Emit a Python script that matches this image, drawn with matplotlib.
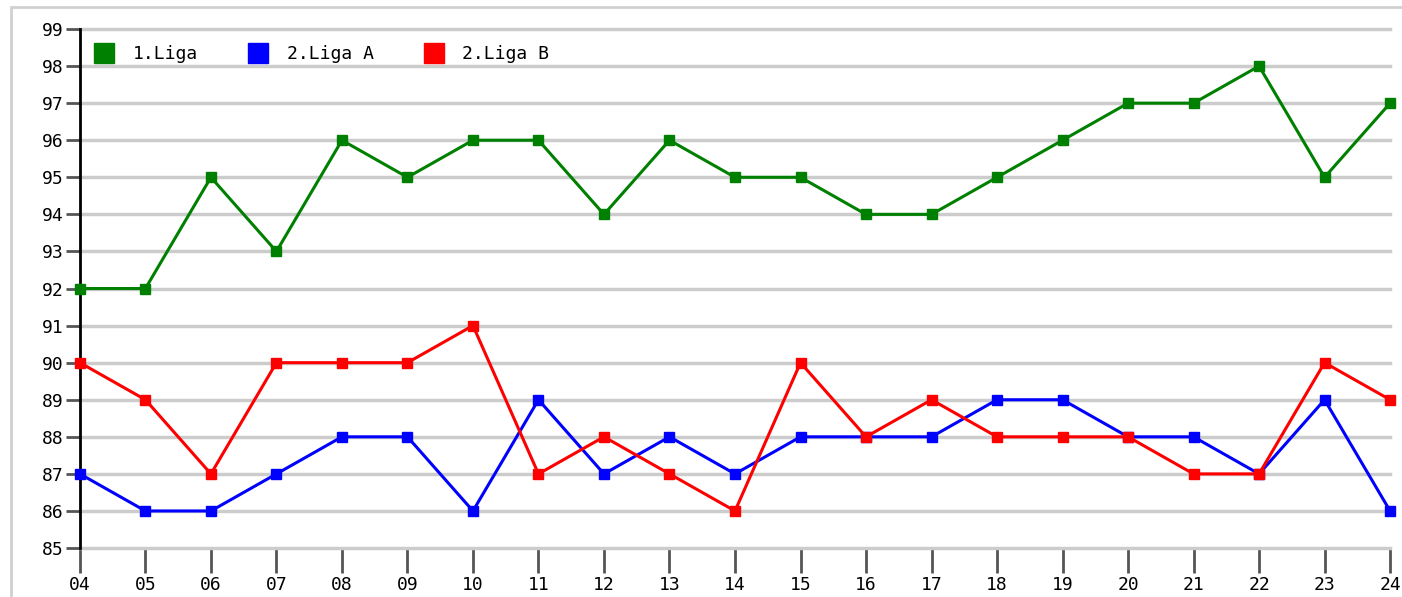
import numpy as np
import matplotlib
matplotlib.use('Agg')
import matplotlib.pyplot as plt
from matplotlib.lines import Line2D
from matplotlib.patches import Rectangle

years = ['04', '05', '06', '07', '08', '09', '10', '11', '12', '13', '14',
         '15', '16', '17', '18', '19', '20', '21', '22', '23', '24']
liga1 = [92, 92, 95, 93, 96, 95, 96, 96, 94, 96, 95, 95, 94, 94, 95, 96, 97, 97, 98, 95, 97]
liga2a = [87, 86, 86, 87, 88, 88, 86, 89, 87, 88, 87, 88, 88, 88, 89, 89, 88, 88, 87, 89, 86]
liga2b = [90, 89, 87, 90, 90, 90, 91, 87, 88, 87, 86, 90, 88, 89, 88, 88, 88, 87, 87, 90, 89]

series = [('1.Liga', liga1, '#008000'),
          ('2.Liga A', liga2a, '#0000ff'),
          ('2.Liga B', liga2b, '#ff0000')]

plt.rcParams['font.family'] = 'DejaVu Sans Mono'

fig = plt.figure(figsize=(14.02, 5.97), dpi=100)
fig.patches.append(Rectangle((0.008, -0.01), 1.1, 0.998, transform=fig.transFigure,
                             fill=False, edgecolor='#d0d0d0', linewidth=2))
ax = fig.add_axes([0.057, 0.082, 0.9345, 0.8694])

x = np.arange(len(years))
for name, vals, col in series:
    ax.plot(x, vals, color=col, linewidth=2.2, marker='s', markersize=6.5,
            clip_on=False, zorder=3)

ax.set_xlim(0, len(years) - 1)
ax.set_ylim(85, 99)
ax.set_xticks(x)
ax.set_xticklabels(years)
ax.set_yticks(range(85, 100))
for gl in ax.yaxis.get_gridlines():
    gl.set_clip_on(False)
ax.grid(axis='y', color='#cccccc', linewidth=2.5, clip_on=False)
ax.set_axisbelow(True)

for s in ['top', 'right', 'bottom']:
    ax.spines[s].set_visible(False)
ax.spines['left'].set_color('black')
ax.spines['left'].set_linewidth(2)
ax.tick_params(axis='x', length=18, width=2, color='#555555', labelsize=13, pad=2)
ax.tick_params(axis='y', length=10, width=2, color='#555555', labelsize=13, pad=2)

handles = [Line2D([], [], color=col, marker='s', linestyle='none', markersize=14)
           for _, _, col in series]
ax.legend(handles, [s[0] for s in series], loc='upper left', ncol=3, frameon=False,
          fontsize=13, bbox_to_anchor=(-0.002, 1.0), handletextpad=1.0,
          columnspacing=2.7, handlelength=1.2)

fig.savefig('out.png', dpi=100)
